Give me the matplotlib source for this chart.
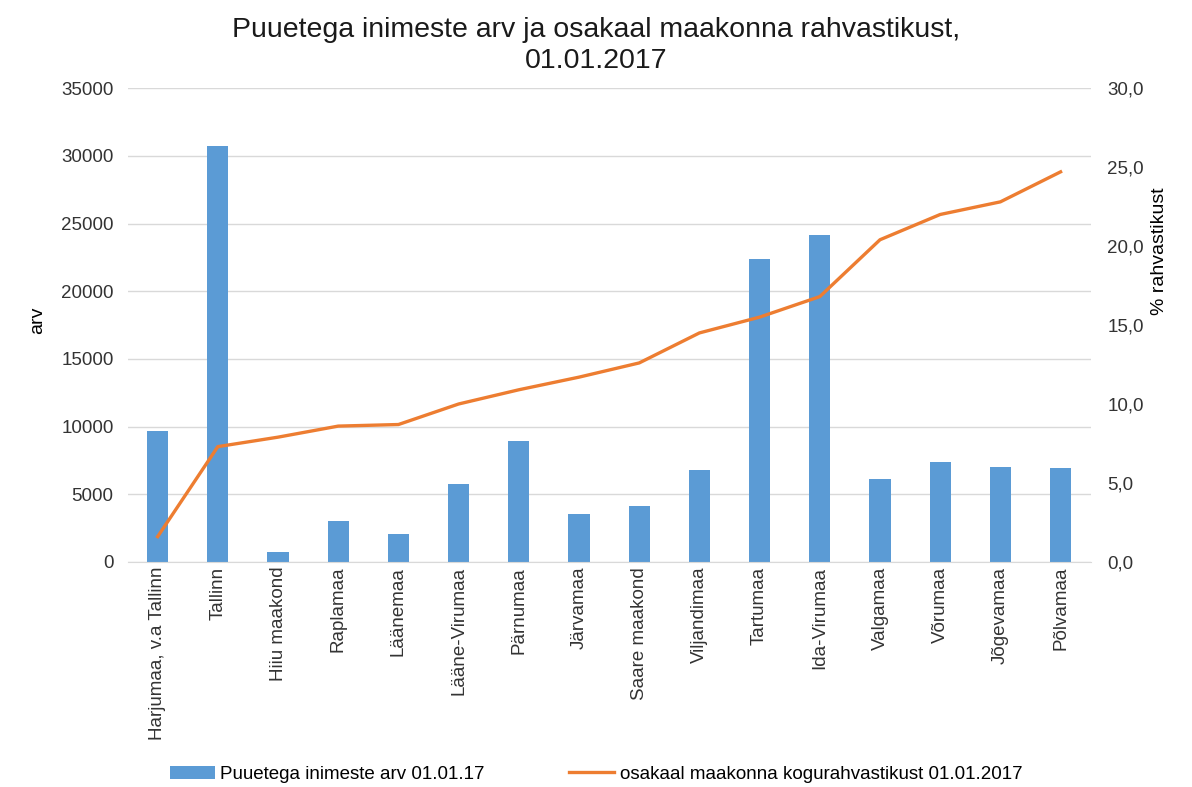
import matplotlib.pyplot as plt
from matplotlib.ticker import FuncFormatter

plt.rcParams['font.family'] = ['Liberation Sans', 'DejaVu Sans']

maakonnad = ["Harjumaa, v.a Tallinn", "Tallinn", "Hiiu maakond", "Raplamaa", "Läänemaa",
             "Lääne-Virumaa", "Pärnumaa", "Järvamaa", "Saare maakond", "Viljandimaa",
             "Tartumaa", "Ida-Virumaa", "Valgamaa", "Võrumaa", "Jõgevamaa", "Põlvamaa"]
arv = [9700, 30700, 740, 3030, 2070, 5760, 8940, 3550, 4150, 6820,
       22380, 24150, 6100, 7390, 7020, 6940]
osakaal = [1.6, 7.3, 7.9, 8.6, 8.7, 10.0, 10.9, 11.7, 12.6, 14.5,
           15.5, 16.8, 20.4, 22.0, 22.8, 24.7]

fig = plt.figure(figsize=(11.92, 7.87), dpi=100)
ax = fig.add_axes([0.107, 0.286, 0.808, 0.602])
ax2 = ax.twinx()

x = range(len(maakonnad))
bars = ax.bar(x, arv, width=0.35, color="#5B9BD5", zorder=2,
              label="Puuetega inimeste arv 01.01.17")
line, = ax2.plot(x, osakaal, color="#ED7D31", lw=2.4,
                 label="osakaal maakonna kogurahvastikust 01.01.2017")

ax.set_xlim(-0.5, len(maakonnad) - 0.5)
ax.set_ylim(0, 35000)
ax.set_yticks(range(0, 35001, 5000))
ax2.set_ylim(0, 30)
ax2.set_yticks(range(0, 31, 5))
ax2.yaxis.set_major_formatter(FuncFormatter(lambda v, p: f"{v:.1f}".replace(".", ",")))

ax.grid(axis="y", color="#D9D9D9", lw=1, zorder=0)
ax.set_axisbelow(True)
for a in (ax, ax2):
    for s in a.spines.values():
        s.set_visible(False)
    a.tick_params(length=0, labelsize=13.5, colors="#333333")
ax.tick_params(axis="y", pad=10)
ax2.tick_params(axis="y", pad=12)
ax.spines["bottom"].set_visible(True)
ax.spines["bottom"].set_color("#D9D9D9")

ax.set_xticks(list(x))
ax.set_xticklabels(maakonnad, rotation=90)
ax.set_ylabel("arv", fontsize=14)
ax.yaxis.set_label_coords(-0.085, 0.51)
ax2.set_ylabel("% rahvastikust", fontsize=14)
ax2.yaxis.set_label_coords(1.063, 0.655)

fig.suptitle("Puuetega inimeste arv ja osakaal maakonna rahvastikust,\n01.01.2017",
             fontsize=20.5, y=0.978, color="#1a1a1a", linespacing=1.25)

fig.legend([bars, line], [bars.get_label(), line.get_label()], loc="lower center",
           bbox_to_anchor=(0.5, -0.016), ncol=2, frameon=False, fontsize=13.5,
           handlelength=2.4, handletextpad=0.3, columnspacing=4.5)

fig.savefig("out.png", dpi=100)
